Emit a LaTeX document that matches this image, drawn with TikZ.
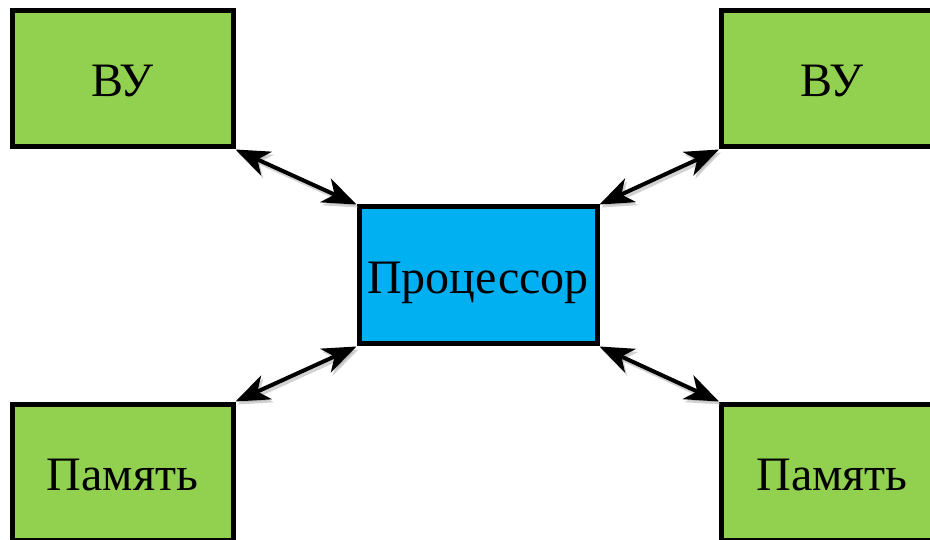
\documentclass[tikz,border=0pt]{standalone}
\usepackage{fontspec}
\setmainfont{Liberation Serif}
\usetikzlibrary{arrows.meta}
\definecolor{boxgreen}{HTML}{92D050}
\definecolor{boxblue}{HTML}{00B0F0}
\begin{document}
\begin{tikzpicture}[x=1pt,y=-1pt,
  gbox/.style={draw=black, line width=5pt, fill=boxgreen, minimum width=221pt, minimum height=136pt, inner sep=0pt, text height=40pt, text depth=4pt, font=\fontsize{48}{56}\selectfont},
  cbox/.style={draw=black, line width=5pt, fill=boxblue, minimum width=238pt, minimum height=137pt, inner sep=0pt, text height=40pt, text depth=4pt, font=\fontsize{48}{56}\selectfont},
  tip/.style={Stealth[length=34pt,width=26pt,inset=10pt]},
  link/.style={line width=4pt, {Stealth[length=34pt,width=26pt,inset=10pt]}-{Stealth[length=34pt,width=26pt,inset=10pt]}},
  shadowlink/.style={line width=4pt, draw=black!35, opacity=0.5, {Stealth[length=34pt,width=26pt,inset=10pt]}-{Stealth[length=34pt,width=26pt,inset=10pt]}}
]
\useasboundingbox (0,0) rectangle (930,540);
\clip (0,0) rectangle (930,540);
\fill[white] (0,0) rectangle (930,540);
\node[gbox] (tl) at (122.5,79) {ВУ};
\node[gbox] (tr) at (832,79) {ВУ};
\node[gbox] (bl) at (122.5,472) {Память};
\node[gbox] (br) at (832,472) {Память};
\node[cbox] (cpu) at (478,275.5) {Процессор};
\begin{scope}[transform canvas={shift={(2pt,-3pt)}}]
\draw[shadowlink] (tl.south east) -- (cpu.north west);
\draw[shadowlink] (tr.south west) -- (cpu.north east);
\draw[shadowlink] (bl.north east) -- (cpu.south west);
\draw[shadowlink] (br.north west) -- (cpu.south east);
\end{scope}
\draw[link] (tl.south east) -- (cpu.north west);
\draw[link] (tr.south west) -- (cpu.north east);
\draw[link] (bl.north east) -- (cpu.south west);
\draw[link] (br.north west) -- (cpu.south east);
\end{tikzpicture}
\end{document}
